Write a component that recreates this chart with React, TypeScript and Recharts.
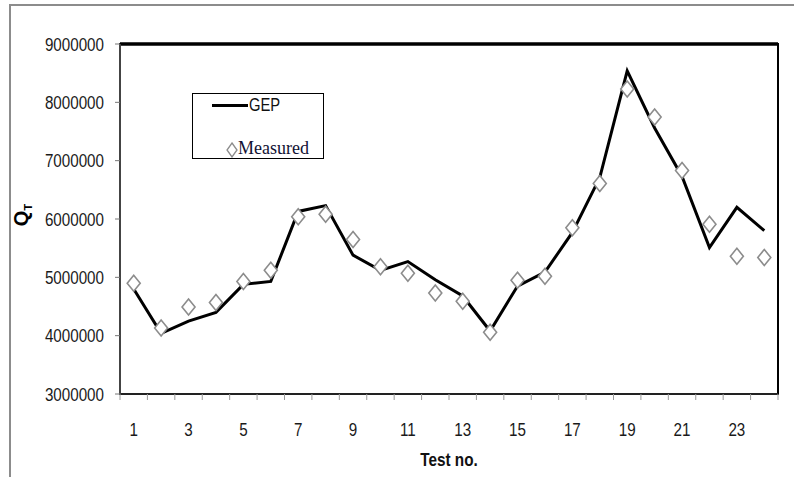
import React from 'react';
import { ComposedChart, Line, XAxis, YAxis, ReferenceArea, ReferenceLine, Legend } from 'recharts';

const tests = [1, 2, 3, 4, 5, 6, 7, 8, 9, 10, 11, 12, 13, 14, 15, 16, 17, 18, 19, 20, 21, 22, 23, 24];
const gepValues = [4800000, 4040000, 4250000, 4400000, 4880000, 4930000, 6130000, 6230000, 5380000, 5120000, 5270000, 4960000, 4680000, 4080000, 4850000, 5090000, 5770000, 6710000, 8540000, 7560000, 6730000, 5510000, 6200000, 5800000];
const measuredValues = [4900000, 4130000, 4490000, 4570000, 4930000, 5120000, 6040000, 6080000, 5650000, 5180000, 5070000, 4730000, 4590000, 4060000, 4950000, 5020000, 5850000, 6610000, 8230000, 7750000, 6830000, 5910000, 5360000, 5340000];
const yTicks = [3000000, 4000000, 5000000, 6000000, 7000000, 8000000, 9000000];
const xLabelTicks = [1, 3, 5, 7, 9, 11, 13, 15, 17, 19, 21, 23];
const xBoundaryTicks = [0.5, 1.5, 2.5, 3.5, 4.5, 5.5, 6.5, 7.5, 8.5, 9.5, 10.5, 11.5, 12.5, 13.5, 14.5, 15.5, 16.5, 17.5, 18.5, 19.5, 20.5, 21.5, 22.5, 23.5, 24.5];

const data = tests.map((t, i) => ({ test: t, gep: gepValues[i], measured: measuredValues[i] }));

const sans = '"Liberation Sans", Arial, sans-serif';

const NarrowTick = (props: any) => {
  const { x, y, payload, anchor } = props;
  const isY = anchor === 'y';
  return (
    <text
      transform={`translate(${x},${y}) scale(0.8,1)`}
      textAnchor={isY ? 'end' : 'middle'}
      dy={isY ? '0.35em' : '0.71em'}
      fontFamily={sans}
      fontSize={19}
      fill="#1a1a1a"
    >
      {payload.value}
    </text>
  );
};

const Diamond = (props: any) => {
  const { cx, cy } = props;
  if (cx == null || cy == null) return null;
  const w = 6.5, h = 8;
  return (
    <path
      d={`M${cx},${cy - h} L${cx + w},${cy} L${cx},${cy + h} L${cx - w},${cy} Z`}
      fill="#fff"
      stroke="#8c8c8c"
      strokeWidth={1.6}
    />
  );
};

const YTitle = () => (
  <text
    transform="translate(28,215) rotate(-90)"
    textAnchor="middle"
    fontFamily={sans}
    fontWeight="bold"
    fontSize={20}
    fill="#000"
  >
    Q<tspan fontSize={11} dy={4}>T</tspan>
  </text>
);

const XTitle = () => (
  <text
    transform="translate(449,466) scale(0.85,1)"
    textAnchor="middle"
    fontFamily={sans}
    fontWeight="bold"
    fontSize={18}
    fill="#111"
  >
    Test no.
  </text>
);

const LegendBox = () => (
  <div
    style={{
      width: 132,
      height: 66,
      border: '1.5px solid #000',
      boxSizing: 'border-box',
      background: '#fff',
      position: 'relative',
    }}
  >
    <div style={{ position: 'absolute', left: 19, top: 10, width: 36, height: 3, background: '#000' }} />
    <span
      style={{
        position: 'absolute',
        left: 56,
        top: 1,
        fontFamily: sans,
        fontSize: 18,
        lineHeight: '20px',
        color: '#111',
        transform: 'scaleX(0.82)',
        transformOrigin: 'left center',
      }}
    >
      GEP
    </span>
    <svg style={{ position: 'absolute', left: 32, top: 48 }} width={14} height={16}>
      <path d="M7,1 L12,8 L7,15 L2,8 Z" fill="#fff" stroke="#8c8c8c" strokeWidth={1.3} />
    </svg>
    <span
      style={{
        position: 'absolute',
        left: 45,
        top: 43,
        fontFamily: '"Liberation Serif", "Times New Roman", serif',
        fontSize: 18,
        lineHeight: '22px',
        color: '#111133',
      }}
    >
      Measured
    </span>
  </div>
);

export default function App() {
  return (
    <div style={{ position: 'absolute', left: 0, top: 0, width: 794, height: 477, background: '#fff', overflow: 'hidden' }}>
      <div
        style={{
          position: 'absolute',
          left: 9,
          top: 4,
          width: 800,
          height: 480,
          borderTop: '2px solid #8c8c8c',
          borderLeft: '2px solid #8c8c8c',
        }}
      />
      <ComposedChart width={794} height={477} data={data} margin={{ top: 44, right: 16, bottom: 0, left: 0 }}>
        <XAxis
          xAxisId="a_main"
          dataKey="test"
          type="number"
          domain={[0.5, 24.5]}
          ticks={xBoundaryTicks}
          tickFormatter={() => ''}
          height={8}
          tickSize={6}
          stroke="#222"
          strokeWidth={2}
          tickLine={{ stroke: '#9a9a9a', strokeWidth: 1 }}
          allowDataOverflow
        />
        <XAxis
          xAxisId="b_labels"
          dataKey="test"
          type="number"
          domain={[0.5, 24.5]}
          ticks={xLabelTicks}
          height={75}
          axisLine={false}
          tickLine={false}
          tickSize={0}
          tickMargin={21}
          tick={<NarrowTick anchor="x" />}
          label={<XTitle />}
        />
        <YAxis
          type="number"
          domain={[3000000, 9000000]}
          ticks={yTicks}
          width={120}
          tickSize={5}
          tickMargin={11}
          stroke="#444"
          strokeWidth={2}
          tickLine={{ stroke: '#777', strokeWidth: 1 }}
          tick={<NarrowTick anchor="y" />}
          label={<YTitle />}
          allowDataOverflow
        />
        <ReferenceArea
          xAxisId="a_main"
          x1={0.5}
          x2={24.5}
          y1={3000000}
          y2={9000000}
          fill="none"
          stroke="#000"
          strokeWidth={2}
          ifOverflow="visible"
        />
        <ReferenceLine xAxisId="a_main" y={9000000} stroke="#000" strokeWidth={3.5} ifOverflow="visible" />
        <Legend
          layout="horizontal"
          verticalAlign="middle"
          align="center"
          content={<LegendBox />}
          wrapperStyle={{ position: 'absolute', left: 192, top: 93, width: 132, height: 66 }}
        />
        <Line
          xAxisId="a_main"
          type="linear"
          dataKey="gep"
          name="GEP"
          stroke="#000"
          strokeWidth={3}
          dot={false}
          activeDot={false}
          isAnimationActive={false}
        />
        <Line
          xAxisId="a_main"
          type="linear"
          dataKey="measured"
          name="Measured"
          stroke="none"
          dot={<Diamond />}
          activeDot={false}
          isAnimationActive={false}
        />
      </ComposedChart>
    </div>
  );
}
